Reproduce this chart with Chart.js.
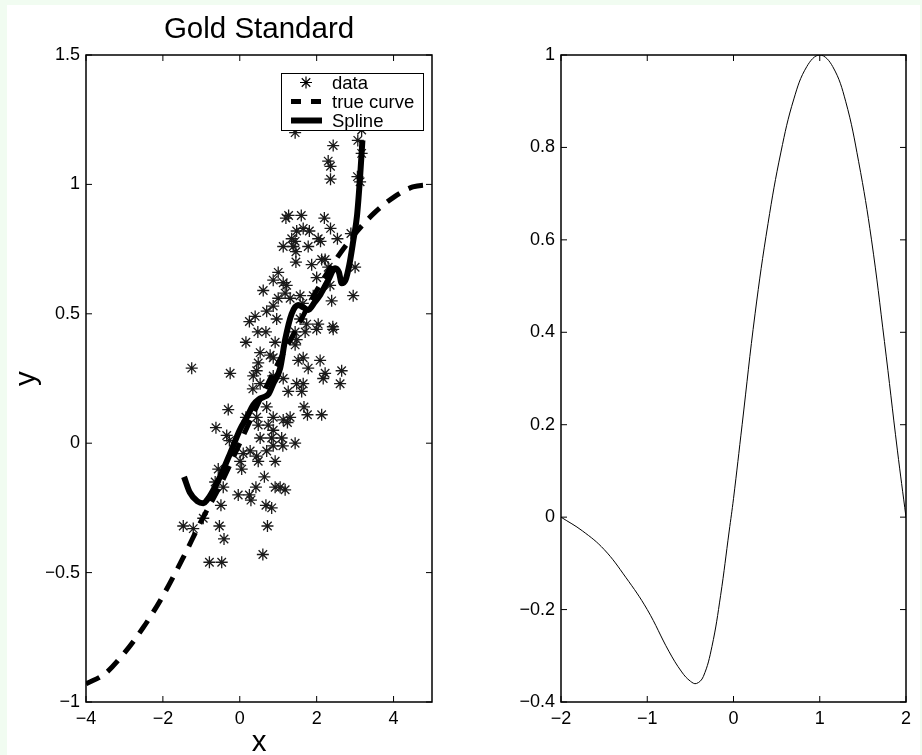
<!DOCTYPE html>
<html>
<head>
<meta charset="utf-8">
<script src="https://cdn.jsdelivr.net/npm/chart.js@4.4.1/dist/chart.umd.min.js"></script>
<style>
  html, body { margin: 0; padding: 0; background: #f1fcf1; }
  #page { position: relative; width: 922px; height: 755px; overflow: hidden; }
  #sheet { position: absolute; left: 7px; top: 5px; width: 913px; height: 750px; background: #ffffff; }
  #leftChart { position: absolute; left: 0; top: 0; }
  #rightChart { position: absolute; left: 460px; top: 0; }
</style>
</head>
<body>
<div id="page">
  <div id="sheet"></div>
  <canvas id="leftChart" width="460" height="755"></canvas>
  <canvas id="rightChart" width="462" height="755"></canvas>
</div>
<script>
"use strict";

const FONT = "'Liberation Sans', Arial, Helvetica, sans-serif";

// Left panel: noisy samples
const starX = [
  1.44, 2.43, 3.07, 3.17, 2.30, 2.36, 2.36, 3.06, 3.13, 1.20, 1.27, 1.60, 2.20, 3.17,
  1.48, 1.65, 1.81, 2.36, 1.35, 1.44, 1.13, 1.39, 1.78, 2.04, 2.10, 2.54, 1.46, 1.46,
  1.87, 2.13, 2.22, 2.30, 3.00, 2.89, 1.00, 2.00, 0.87, 1.13, 1.22, 2.35, 0.61, 1.18,
  1.57, 2.95, 1.00, 1.31, 1.91, 1.64, 0.87, 2.39, 0.70, 0.40, 0.25, 0.96, 1.57, 1.74,
  2.04, 2.42, 2.43, 0.47, 0.68, 1.44, 1.70, 2.00, 0.16, 0.92, 1.48,
  1.44, -1.25, -0.25, 0.53, 0.79, 0.48, 0.87, 1.52, 1.65, 2.09, 1.78, 2.65, 2.22, 2.17,
  2.61, 0.35, 0.44, 0.87, 1.13, 0.53, 0.34, 1.26, 1.48, 1.65, 1.61, -0.30, 0.70, 1.67,
  1.76, 2.13, 0.16, 0.44, 0.87, 1.13, 1.31, 1.24, -0.62, 0.48, 0.74, 0.87, -0.34, -0.27,
  0.53, 0.83, 1.09, 0.87, 1.12, 1.44, 0.27, 0.70, 0.09, 0.44,
  0.01, 0.05, 0.48, 0.92, -0.56, -0.64, -0.43, 0.64, 0.42, -0.04, 0.25, 0.29, 0.92,
  1.05, 1.18, 0.68, 0.83, -0.49, -0.95, -1.47, -1.21, -0.53, 0.72, -0.41, 0.60, -0.79, -0.47
];
const starY = [
  1.20, 1.15, 1.17, 1.12, 1.09, 1.07, 1.02, 1.03, 1.01, 0.87, 0.88, 0.88, 0.87, 1.21,
  0.82, 0.83, 0.82, 0.83, 0.79, 0.78, 0.76, 0.76, 0.76, 0.79, 0.78, 0.79, 0.74, 0.70,
  0.69, 0.71, 0.71, 0.68, 0.68, 0.81, 0.66, 0.64, 0.63, 0.62, 0.61, 0.61, 0.59, 0.58,
  0.57, 0.57, 0.56, 0.56, 0.57, 0.54, 0.53, 0.55, 0.51, 0.49, 0.47, 0.48, 0.48, 0.46,
  0.46, 0.45, 0.44, 0.43, 0.43, 0.43, 0.43, 0.44, 0.39, 0.39, 0.40,
  0.38, 0.29, 0.27, 0.35, 0.34, 0.31, 0.33, 0.32, 0.33, 0.32, 0.29, 0.28, 0.27, 0.25,
  0.23, 0.26, 0.28, 0.26, 0.25, 0.23, 0.21, 0.20, 0.23, 0.23, 0.20, 0.13, 0.14, 0.14,
  0.11, 0.11, 0.10, 0.10, 0.10, 0.09, 0.10, 0.08, 0.06, 0.07, 0.07, 0.05, 0.03, 0.01,
  0.02, 0.02, 0.02, -0.01, -0.01, 0.00, -0.03, -0.03, -0.04, -0.05,
  -0.07, -0.10, -0.07, -0.07, -0.10, -0.15, -0.17, -0.13, -0.17, -0.20, -0.20, -0.22, -0.17,
  -0.17, -0.18, -0.24, -0.25, -0.24, -0.29, -0.32, -0.33, -0.32, -0.32, -0.37, -0.43, -0.46, -0.46
];

// Left panel: true curve (dashed)
const trueX = [-4, -3.5, -3, -2.5, -2, -1.5, -1, -0.5, 0, 0.5, 1, 1.5, 2, 2.5, 3, 3.5, 4, 4.5, 5];
const trueY = [-0.93, -0.89, -0.81, -0.71, -0.59, -0.45, -0.30, -0.16, 0, 0.16, 0.31, 0.45, 0.59, 0.71, 0.81, 0.89, 0.95, 0.99, 1.0];

// Left panel: fitted spline (thick)
const splineX = [-1.45, -1.3, -1.1, -0.95, -0.82, -0.65, -0.51, -0.25, 0, 0.2, 0.35, 0.5, 0.62, 0.75, 0.87, 1.05, 1.18, 1.35, 1.52, 1.65, 1.78, 1.95, 2.1, 2.3, 2.48, 2.58, 2.65, 2.75, 2.85, 2.95, 3.05, 3.13, 3.19];
const splineY = [-0.13, -0.19, -0.225, -0.232, -0.213, -0.17, -0.129, -0.039, 0.051, 0.105, 0.148, 0.17, 0.178, 0.19, 0.23, 0.29, 0.40, 0.50, 0.534, 0.525, 0.515, 0.545, 0.575, 0.63, 0.676, 0.66, 0.618, 0.63, 0.69, 0.78, 0.88, 1.03, 1.17];

const leftXTicks = [-4, -2, 0, 2, 4];
const leftYTicks = [-1, -0.5, 0, 0.5, 1, 1.5];
const legendLabels = ["data", "true curve", "Spline"];
const titleText = "Gold Standard";
const xLabel = "x";
const yLabel = "y";

// Right panel: kernel curve
const curveX = [-2, -1.75, -1.5, -1.25, -1, -0.75, -0.6, -0.5, -0.43, -0.35, -0.25, -0.15, -0.05, 0, 0.1, 0.25, 0.4, 0.55, 0.7, 0.85, 1, 1.15, 1.3, 1.45, 1.6, 1.75, 1.9, 2];
const curveY = [0, -0.03, -0.07, -0.13, -0.2, -0.29, -0.335, -0.355, -0.36, -0.345, -0.28, -0.17, -0.03, 0.04, 0.2, 0.44, 0.635, 0.79, 0.905, 0.975, 1.0, 0.975, 0.9, 0.77, 0.6, 0.38, 0.145, 0.0];

const rightXTicks = [-2, -1, 0, 1, 2];
const rightYTicks = [-0.4, -0.2, 0, 0.2, 0.4, 0.6, 0.8, 1];

const toPoints = (xs, ys) => xs.map((x, i) => ({ x, y: ys[i] }));
const minus = (v) => String(v).replace("-", "\u2212");

function axis(min, max, tickValues, fit) {
  return {
    type: "linear",
    min,
    max,
    afterBuildTicks: (s) => {
      s.ticks = tickValues.map((v) => ({ value: v }));
    },
    afterFit: fit,
    grid: { display: false, drawTicks: false },
    border: { display: false },
    ticks: {
      color: "#000",
      font: { family: FONT, size: 18 },
      padding: 6,
      autoSkip: false,
      maxRotation: 0,
      callback: minus,
    },
  };
}

// box with inward ticks on all four sides
const framePlugin = {
  id: "frame",
  afterDatasetsDraw(chart) {
    const { ctx, chartArea: a, scales } = chart;
    ctx.save();
    ctx.strokeStyle = "#000";
    ctx.lineWidth = 1;
    ctx.beginPath();
    scales.x.ticks.forEach((t) => {
      const px = scales.x.getPixelForValue(t.value);
      ctx.moveTo(px, a.bottom);
      ctx.lineTo(px, a.bottom - 6);
      ctx.moveTo(px, a.top);
      ctx.lineTo(px, a.top + 6);
    });
    scales.y.ticks.forEach((t) => {
      const py = scales.y.getPixelForValue(t.value);
      ctx.moveTo(a.left, py);
      ctx.lineTo(a.left + 6, py);
      ctx.moveTo(a.right, py);
      ctx.lineTo(a.right - 6, py);
    });
    ctx.stroke();
    ctx.lineWidth = 1.5;
    ctx.strokeRect(a.left, a.top, a.right - a.left, a.bottom - a.top);
    ctx.restore();
  },
};

const legendPlugin = {
  id: "goldLegend",
  afterDraw(chart) {
    const { ctx, chartArea: a } = chart;
    const w = 142;
    const h = 57;
    const left = Math.round(a.right - 9 - w);
    const top = Math.round(a.top + 18);
    ctx.save();
    ctx.fillStyle = "#fff";
    ctx.fillRect(left, top, w, h);
    ctx.strokeStyle = "#000";
    ctx.lineWidth = 1;
    ctx.strokeRect(left + 0.5, top + 0.5, w, h);

    legendLabels.forEach((label, i) => {
      const y = top + 9.5 + i * 19;
      ctx.strokeStyle = "#000";
      if (i === 0) {
        const r = 6;
        const cx = left + 25;
        ctx.lineWidth = 1.2;
        ctx.beginPath();
        for (let k = 0; k < 4; k++) {
          const ang = (k * Math.PI) / 4;
          ctx.moveTo(cx - r * Math.cos(ang), y - r * Math.sin(ang));
          ctx.lineTo(cx + r * Math.cos(ang), y + r * Math.sin(ang));
        }
        ctx.stroke();
      } else {
        ctx.lineWidth = i === 1 ? 5 : 6;
        ctx.setLineDash(i === 1 ? [10, 10] : []);
        ctx.beginPath();
        ctx.moveTo(left + 10, y);
        ctx.lineTo(left + 41, y);
        ctx.stroke();
        ctx.setLineDash([]);
      }
      ctx.fillStyle = "#000";
      ctx.font = `18.5px ${FONT}`;
      ctx.textAlign = "left";
      ctx.textBaseline = "middle";
      ctx.fillText(label, left + 51, y + 1);
    });
    ctx.restore();
  },
};

const labelPlugin = {
  id: "axisText",
  afterDraw(chart) {
    const { ctx, chartArea: a } = chart;
    const cx = (a.left + a.right) / 2;
    ctx.save();
    ctx.fillStyle = "#000";
    ctx.font = `29.5px ${FONT}`;
    ctx.textAlign = "center";
    ctx.textBaseline = "alphabetic";
    ctx.fillText(titleText, cx, a.top - 17.5);
    ctx.fillText(xLabel, cx, a.bottom + 49);
    ctx.translate(35, (a.top + a.bottom) / 2);
    ctx.rotate(-Math.PI / 2);
    ctx.fillText(yLabel, 0, 0);
    ctx.restore();
  },
};

const common = {
  responsive: false,
  devicePixelRatio: 1,
  animation: false,
  events: [],
  plugins: { legend: { display: false }, tooltip: { enabled: false } },
};

new Chart(document.getElementById("leftChart"), {
  type: "scatter",
  data: {
    datasets: [
      {
        label: legendLabels[0],
        data: toPoints(starX, starY),
        pointStyle: "star",
        pointRadius: 6,
        pointBorderColor: "#1a1a1a",
        pointBackgroundColor: "#1a1a1a",
        pointBorderWidth: 1.3,
        showLine: false,
        order: 2,
      },
      {
        label: legendLabels[1],
        data: toPoints(trueX, trueY),
        showLine: true,
        borderColor: "#000",
        borderWidth: 5,
        borderDash: [15, 10],
        borderCapStyle: "butt",
        pointRadius: 0,
        cubicInterpolationMode: "monotone",
        order: 1,
      },
      {
        label: legendLabels[2],
        data: toPoints(splineX, splineY),
        showLine: true,
        borderColor: "#000",
        borderWidth: 6,
        borderCapStyle: "butt",
        pointRadius: 0,
        cubicInterpolationMode: "monotone",
        order: 0,
      },
    ],
  },
  options: {
    ...common,
    layout: { padding: { left: 46, top: 55, right: 28, bottom: 23 } },
    scales: {
      x: axis(-4, 5, leftXTicks, (s) => { s.height = 30; }),
      y: axis(-1, 1.5, leftYTicks, (s) => { s.width = 40; }),
    },
  },
  plugins: [framePlugin, labelPlugin, legendPlugin],
});

new Chart(document.getElementById("rightChart"), {
  type: "scatter",
  data: {
    datasets: [
      {
        data: toPoints(curveX, curveY),
        showLine: true,
        borderColor: "#000",
        borderWidth: 1,
        pointRadius: 0,
        tension: 0.4,
      },
    ],
  },
  options: {
    ...common,
    layout: { padding: { left: 51, top: 55, right: 16, bottom: 23 } },
    scales: {
      x: axis(-2, 2, rightXTicks, (s) => { s.height = 30; }),
      y: axis(-0.4, 1, rightYTicks, (s) => { s.width = 50; }),
    },
  },
  plugins: [framePlugin],
});
</script>
</body>
</html>
